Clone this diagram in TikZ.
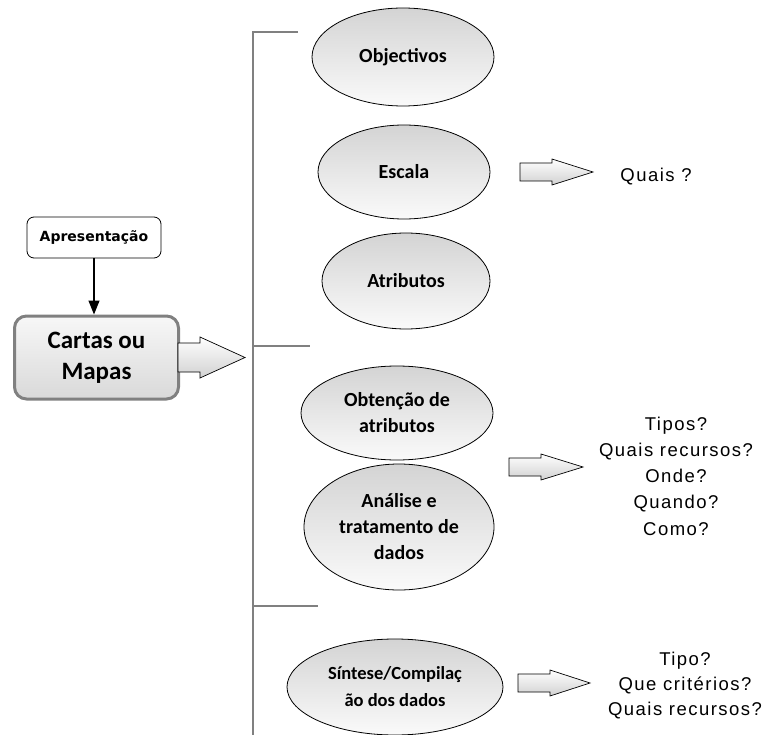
\documentclass[tikz,border=0pt]{standalone}
\usepackage{fontspec}
\setmainfont{Carlito}
\newfontfamily\qfont[LetterSpace=8]{Liberation Sans}
\newfontfamily\tagfont{DejaVu Sans}
\usetikzlibrary{shapes.geometric,arrows.meta}

% hollow block arrow: #1 tail x, #2 centre y, #3 total length
\newcommand\blockarrow[3]{%
  \path[barrow] (#1,#2-9) -- (#1+32,#2-9) -- (#1+32,#2-13) -- (#1+#3,#2)
    -- (#1+32,#2+13) -- (#1+32,#2+9) -- (#1,#2+9) -- cycle;}

\begin{document}
\begin{tikzpicture}[x=1pt,y=-1pt,
  topic/.style={ellipse,draw=black,line width=0.8pt,top color=black!17,
    bottom color=black!2,inner sep=0pt,align=center,
    font=\bfseries\fontsize{20}{26}\selectfont},
  question/.style={align=center,inner sep=0pt,
    font=\qfont\fontsize{18.5}{26.2}\selectfont},
  barrow/.style={draw=black,line width=0.7pt,top color=white,
    bottom color=black!18,line join=miter},
  bracket/.style={draw=black!50,line width=2.4pt},
  tagbox/.style={draw=black,line width=0.8pt,rounded corners=7pt,fill=white,
    minimum width=134pt,minimum height=41pt,inner sep=0pt,
    font=\tagfont\bfseries\fontsize{14}{16}\selectfont},
  mainbox/.style={draw=black!50,line width=3pt,rounded corners=12pt,
    top color=black!3,bottom color=black!15,minimum width=164pt,
    minimum height=83pt,inner sep=0pt,align=center,
    font=\bfseries\fontsize{25}{31}\selectfont}]

\useasboundingbox (0,0) rectangle (768,735);

% bracket grouping the topics
\coordinate (b0) at (253,32);
\coordinate (b1) at (253,346);
\coordinate (b2) at (253,606);
\coordinate (bend) at (253,735);
\draw[bracket] (298,32) -- (b0) -- (bend);
\draw[bracket] (b1) -- (310,346);
\draw[bracket] (b2) -- (318,606);

% left column
\node[tagbox] (apr) at (94,237.5) {Apresentação};
\node[mainbox] (cm) at (96.5,357.5) {Cartas ou\\Mapas};
\draw[line width=1.2pt,-{Triangle[width=11pt,length=14pt]}]
  (apr.south) -- (apr.south |- cm.north);

% big arrow towards the bracket
\path[barrow] (178,343) -- (200,343) -- (200,337) -- (245,357.5)
  -- (200,378) -- (200,372) -- (178,372) -- cycle;

% topics
\node[topic,minimum width=182pt,minimum height=98pt] (obj) at (403,57) {Objectivos};
\node[topic,minimum width=172pt,minimum height=94pt] (esc) at (404,172) {Escala};
\node[topic,minimum width=168pt,minimum height=96pt] (atr) at (406,281) {Atributos};
\node[topic,minimum width=192pt,minimum height=94pt] (obt) at (397,413) {Obtenção de\\atributos};
\node[topic,minimum width=190pt,minimum height=126pt] (ana) at (399,527) {Análise e\\tratamento de\\dados};
\node[topic,minimum width=216pt,minimum height=96pt,
  font=\bfseries\fontsize{18.5}{27}\selectfont] (sin) at (395,687) {Síntese/Compilaç\\ão dos dados};

% questions
\blockarrow{520}{172}{73}
\node[question] (q1) at (656,177) {Quais ?};

\blockarrow{509}{467}{74}
\node[question] (q2) at (676,476) {Tipos?\\Quais recursos?\\Onde?\\Quando?\\Como?};

\blockarrow{518}{683}{72}
\node[question,font=\qfont\fontsize{18.5}{25}\selectfont] (q3) at (685,686)
  {Tipo?\\Que critérios?\\Quais recursos?};

\end{tikzpicture}
\end{document}
